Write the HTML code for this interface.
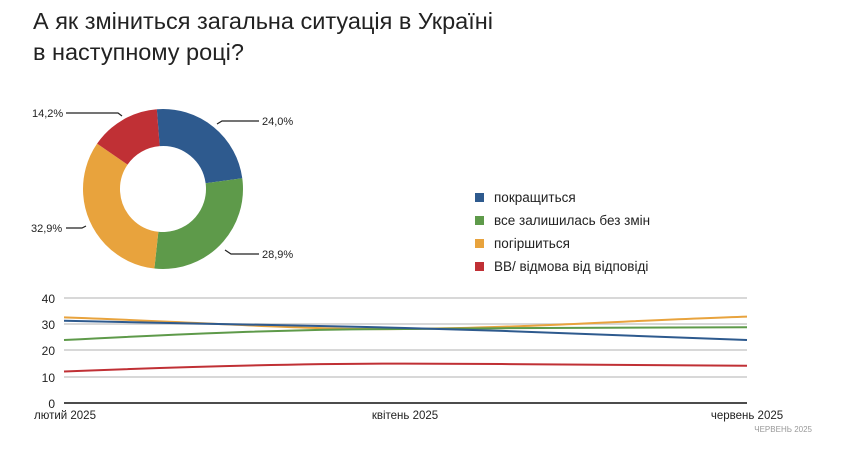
<!DOCTYPE html>
<html><head><meta charset="utf-8"><style>
body{margin:0;background:#fff;width:844px;height:444px;overflow:hidden;font-family:"Liberation Sans",sans-serif}
</style></head><body>
<svg width="844" height="444" viewBox="0 0 844 444" xmlns="http://www.w3.org/2000/svg" font-family="Liberation Sans, sans-serif">
<text x="33" y="29" font-size="23.5" fill="#222">А як зміниться загальна ситуація в Україні</text>
<text x="33" y="60" font-size="23.5" fill="#222">в наступному році?</text>
<g transform="translate(163,189)">
<circle r="61.5" fill="none" stroke="#2e5a8e" stroke-width="37" pathLength="100" stroke-dasharray="24 76" transform="rotate(-94)"/>
<circle r="61.5" fill="none" stroke="#5e9a4a" stroke-width="37" pathLength="100" stroke-dasharray="28.9 71.1" stroke-dashoffset="-24" transform="rotate(-94)"/>
<circle r="61.5" fill="none" stroke="#e8a33d" stroke-width="37" pathLength="100" stroke-dasharray="32.9 67.1" stroke-dashoffset="-52.9" transform="rotate(-94)"/>
<circle r="61.5" fill="none" stroke="#c03035" stroke-width="37" pathLength="100" stroke-dasharray="14.2 85.8" stroke-dashoffset="-85.8" transform="rotate(-94)"/>
</g>
<g stroke="#222" stroke-width="1.2" fill="none">
<polyline points="217,124 222,121 259,121"/>
<polyline points="225,250 231,254 259,254"/>
<polyline points="86,226 82,228 66,228"/>
<polyline points="66,113 118,113 122,116"/>
</g>
<g font-size="11" fill="#222">
<text x="262" y="125">24,0%</text>
<text x="262" y="258">28,9%</text>
<text x="31" y="232">32,9%</text>
<text x="32" y="117">14,2%</text>
</g>
<g font-size="13.5" fill="#222">
<rect x="475" y="193" width="9" height="9" fill="#2e5a8e"/><text x="494" y="202">покращиться</text>
<rect x="475" y="216" width="9" height="9" fill="#5e9a4a"/><text x="494" y="225">все залишилась без змін</text>
<rect x="475" y="239" width="9" height="9" fill="#e8a33d"/><text x="494" y="248">погіршиться</text>
<rect x="475" y="262" width="9" height="9" fill="#c03035"/><text x="494" y="271">ВВ/ відмова від відповіді</text>
</g>
<g stroke="#ccc" stroke-width="1.5">
<line x1="64" y1="298" x2="747" y2="298"/><line x1="64" y1="324" x2="747" y2="324"/><line x1="64" y1="350" x2="747" y2="350"/><line x1="64" y1="377" x2="747" y2="377"/>
</g>
<line x1="64" y1="403" x2="747" y2="403" stroke="#111" stroke-width="1.5"/>
<g font-size="12" fill="#222" text-anchor="end">
<text x="55" y="303">40</text><text x="55" y="329">30</text><text x="55" y="355">20</text><text x="55" y="382">10</text><text x="55" y="408">0</text>
</g>
<g font-size="11.5" fill="#222" text-anchor="middle">
<text x="65" y="419">лютий 2025</text><text x="405" y="419">квітень 2025</text><text x="747" y="419">червень 2025</text>
</g>
<text x="812" y="432" font-size="8" fill="#999" text-anchor="end">ЧЕРВЕНЬ 2025</text>
<g fill="none" stroke-width="2">
<path d="M64,317.4 C200,322 300,330 405,329 C520,328 640,320 747,316.6" stroke="#e8a33d"/>
<path d="M64,340 C200,333 300,329 405,329 C520,328 640,327 747,327.2" stroke="#5e9a4a"/>
<path d="M64,320.8 C200,324 300,325 405,328 C520,331 640,336 747,340" stroke="#2e5a8e"/>
<path d="M64,371.5 C200,366 300,363.5 405,363.6 C520,364 640,365 747,365.7" stroke="#c03035"/>
</g>
</svg>
</body></html>
